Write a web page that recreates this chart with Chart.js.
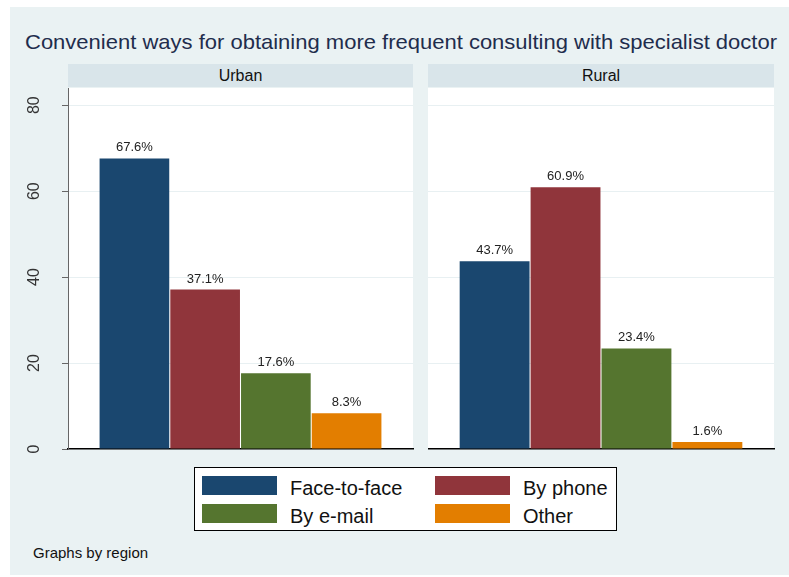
<!DOCTYPE html>
<html>
<head>
<meta charset="utf-8">
<script src="https://cdn.jsdelivr.net/npm/chart.js@4/dist/chart.umd.min.js"></script>
<style>
  body { margin: 0; background: #fff; font-family: "Liberation Sans", Arial, sans-serif; }
  #page { position: relative; width: 789px; height: 577px; overflow: hidden; }
  #bg { position: absolute; left: 10px; top: 7px; width: 779px; height: 568px; background: #eaf2f3; }
  #title { position: absolute; left: 25px; top: 31px; height: 21px; line-height: 21px; font-size: 21px; color: #1f2d4d; white-space: nowrap; }
  #title span { display: inline-block; transform-origin: 0 0; }
  .strip { position: absolute; top: 64px; height: 23px; line-height: 23px; background: #d9e5ea; text-align: center; font-size: 16px; color: #111; }
  canvas { position: absolute; }
  #legend { position: absolute; left: 194px; top: 467px; width: 421px; height: 62px; background: #fff; border: 1px solid #000; }
  .sw { position: absolute; width: 75px; height: 19px; }
  .lt { position: absolute; font-size: 20px; line-height: 20px; color: #111; white-space: nowrap; }
  #note { position: absolute; left: 33px; top: 545px; font-size: 15px; line-height: 15px; color: #111; }
</style>
</head>
<body>
<div id="page">
  <div id="bg"></div>
  <div id="title"><span>Convenient ways for obtaining more frequent consulting with specialist doctor</span></div>
  <div class="strip" id="strip0" style="left:68px;width:345px"></div>
  <div class="strip" id="strip1" style="left:428px;width:346px"></div>
  <canvas id="urbanChart" width="404" height="382" style="left:10px;top:80px"></canvas>
  <canvas id="ruralChart" width="348" height="382" style="left:428px;top:80px"></canvas>
  <div id="legend"></div>
  <div id="note">Graphs by region</div>
</div>
<script>
const regions = ['Urban', 'Rural'];
const methods = ['Face-to-face', 'By phone', 'By e-mail', 'Other'];
const urbanPct = [67.6, 37.1, 17.6, 8.3];
const ruralPct = [43.7, 60.9, 23.4, 1.6];
const yTicks = [0, 20, 40, 60, 80];
const yMax = 84;
const colors = ['#1a476f', '#90353b', '#55752f', '#e37e00'];

// squeeze the title to the width it has in the picture
const titleSpan = document.querySelector('#title span');
const mctx = document.createElement('canvas').getContext('2d');
mctx.font = '21px "Liberation Sans", Arial, sans-serif';
const tw = mctx.measureText(titleSpan.textContent).width;
titleSpan.style.transform = 'scaleX(' + (752 / tw) + ')';

document.getElementById('strip0').textContent = regions[0];
document.getElementById('strip1').textContent = regions[1];

// legend, two columns
const legend = document.getElementById('legend');
methods.forEach((m, i) => {
  const col = i % 2, row = Math.floor(i / 2);
  const sw = document.createElement('div');
  sw.className = 'sw';
  sw.style.background = colors[i];
  sw.style.left = (7 + col * 233) + 'px';
  sw.style.top = (8 + row * 28) + 'px';
  legend.appendChild(sw);
  const t = document.createElement('div');
  t.className = 'lt';
  t.textContent = m;
  t.style.left = (95 + col * 233) + 'px';
  t.style.top = (10 + row * 28) + 'px';
  legend.appendChild(t);
});

const plotBg = {
  id: 'plotBg',
  beforeDraw(chart) {
    const { ctx, chartArea: a } = chart;
    ctx.save();
    ctx.fillStyle = '#fff';
    ctx.fillRect(a.left, a.top, a.right - a.left, a.bottom - a.top);
    ctx.restore();
  }
};

const barLabels = {
  id: 'barLabels',
  afterDatasetsDraw(chart) {
    const ctx = chart.ctx;
    ctx.save();
    ctx.font = '13px "Liberation Sans", Arial, sans-serif';
    ctx.fillStyle = '#222';
    ctx.textAlign = 'center';
    chart.data.datasets.forEach((ds, i) => {
      chart.getDatasetMeta(i).data.forEach((bar, j) => {
        ctx.fillText(ds.data[j].toFixed(1) + '%', bar.x, bar.y - 7);
      });
    });
    ctx.restore();
  }
};

// rotated y tick labels, left panel only
const yLabels = {
  id: 'yLabels',
  afterDraw(chart) {
    const ctx = chart.ctx;
    const y = chart.scales.y;
    ctx.save();
    ctx.font = '16px "Liberation Sans", Arial, sans-serif';
    ctx.fillStyle = '#333';
    ctx.textAlign = 'center';
    ctx.textBaseline = 'middle';
    y.ticks.forEach(t => {
      ctx.save();
      ctx.translate(25, y.getPixelForValue(t.value));
      ctx.rotate(-Math.PI / 2);
      ctx.fillText(String(t.value), 0, 0);
      ctx.restore();
    });
    ctx.restore();
  }
};

function makeChart(id, region, values, isLeft) {
  return new Chart(document.getElementById(id), {
    type: 'bar',
    data: {
      labels: [region],
      datasets: methods.map((m, i) => ({
        label: m,
        data: [values[i]],
        backgroundColor: colors[i],
        borderWidth: 0,
        barPercentage: 0.985,
        categoryPercentage: 0.82
      }))
    },
    options: {
      responsive: false,
      animation: false,
      layout: { padding: { top: 8, bottom: 13, left: 0, right: isLeft ? 1 : 2 } },
      plugins: { legend: { display: false }, tooltip: { enabled: false } },
      scales: {
        x: {
          ticks: { display: false },
          grid: { display: false },
          border: { color: '#000', width: 1.5 },
          afterFit: s => { s.height = 0; }
        },
        y: {
          min: 0,
          max: yMax,
          afterBuildTicks: s => { s.ticks = yTicks.map(v => ({ value: v })); },
          ticks: { display: false },
          grid: {
            color: '#e8f0f2',
            tickColor: '#666',
            tickLength: 6,
            drawTicks: isLeft
          },
          border: { display: isLeft, color: '#666', width: 1 },
          afterFit: s => { s.width = isLeft ? 58 : 0; }
        }
      }
    },
    plugins: isLeft ? [plotBg, barLabels, yLabels] : [plotBg, barLabels]
  });
}

makeChart('urbanChart', regions[0], urbanPct, true);
makeChart('ruralChart', regions[1], ruralPct, false);
</script>
</body>
</html>
